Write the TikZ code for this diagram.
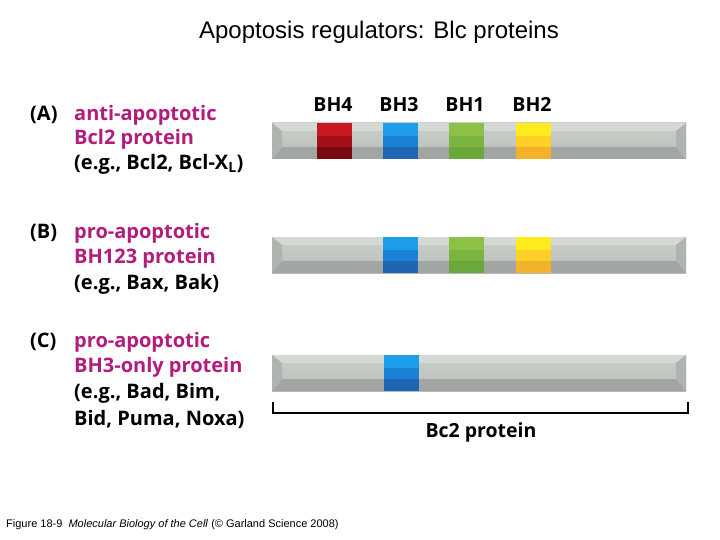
\documentclass[tikz,border=0pt]{standalone}
\usepackage{fontspec}
\setmainfont{Liberation Sans}
\newfontfamily\lab{Open Sans}[Numbers=Lining]
\definecolor{mag}{RGB}{178,28,124}
\definecolor{bartop}{RGB}{212,217,212}
\definecolor{facetop}{RGB}{202,207,202}
\definecolor{facebot}{RGB}{186,190,186}
\definecolor{barbot}{RGB}{162,166,163}
\definecolor{barside}{RGB}{176,180,176}
\definecolor{r1}{RGB}{200,24,32}\definecolor{r2}{RGB}{164,16,26}\definecolor{r3}{RGB}{118,10,16}
\definecolor{b1}{RGB}{30,158,232}\definecolor{b2}{RGB}{26,130,214}\definecolor{b3}{RGB}{32,100,180}
\definecolor{g1}{RGB}{140,192,70}\definecolor{g2}{RGB}{124,180,64}\definecolor{g3}{RGB}{106,168,60}
\definecolor{y1}{RGB}{255,236,30}\definecolor{y2}{RGB}{253,208,40}\definecolor{y3}{RGB}{244,178,42}
\newcommand\pbar[1]{\begin{scope}[shift={(0,#1)}]
 \shade[top color=facetop,bottom color=facebot] (272,0) rectangle (686,36);
 \fill[bartop] (272,0)--(686,0)--(676,8)--(282,8)--cycle;
 \fill[barbot] (272,36)--(686,36)--(676,24)--(282,24)--cycle;
 \fill[barside] (272,0)--(282,8)--(282,24)--(272,36)--cycle;
 \fill[barside] (686,0)--(676,8)--(676,24)--(686,36)--cycle;
\end{scope}}
\newcommand\dom[5]{\begin{scope}[shift={(#2,#1)}]
 \fill[#3] (0,0) rectangle (35,13);
 \fill[#4] (0,13) rectangle (35,24);
 \fill[#5] (0,24) rectangle (35,36);
\end{scope}}
\tikzset{
 lbl/.style={anchor=west,inner sep=0pt,font=\lab\bfseries\fontsize{20}{24}\selectfont},
 mg/.style={lbl,text=mag},
 bk/.style={lbl,text=black},
 bh/.style={anchor=base,inner sep=0pt,font=\lab\bfseries\fontsize{19.5}{24}\selectfont}
}
\begin{document}
\begin{tikzpicture}[x=1pt,y=-1pt]
\useasboundingbox (0,0) rectangle (720,540);
\fill[white] (0,0) rectangle (720,540);
\node (title) at (379,32) {\fontsize{24}{28}\selectfont Apoptosis regulators: Blc proteins};
% bars
\pbar{123}
\dom{123}{317}{r1}{r2}{r3}
\dom{123}{383}{b1}{b2}{b3}
\dom{123}{449}{g1}{g2}{g3}
\dom{123}{516}{y1}{y2}{y3}
\node[bh] (bh4) at (333,112) {BH4};
\node[bh] (bh3) at (399,112) {BH3};
\node[bh] (bh1) at (465,112) {BH1};
\node[bh] (bh2) at (532,112) {BH2};
\pbar{237}
\dom{237}{383}{b1}{b2}{b3}
\dom{237}{449}{g1}{g2}{g3}
\dom{237}{516}{y1}{y2}{y3}
\pbar{355}
\dom{355}{384}{b1}{b2}{b3}
% labels
\node[bk] (A) at (30,115) {(A)};
\node[mg] (A1) at (74,115) {anti-apoptotic};
\node[mg] (A2) at (74,139) {Bcl2 protein};
\node[bk] (A3) at (74,164) {(e.g., Bcl2, Bcl-X\textsubscript{L})};
\node[bk] (B) at (30,233) {(B)};
\node[mg] (B1) at (74,233) {pro-apoptotic};
\node[mg] (B2) at (74,258) {BH123 protein};
\node[bk] (B3) at (74,284) {(e.g., Bax, Bak)};
\node[bk] (C) at (30,342) {(C)};
\node[mg] (C1) at (74,342) {pro-apoptotic};
\node[mg] (C2) at (74,367) {BH3-only protein};
\node[bk] (C3) at (74,393) {(e.g., Bad, Bim,};
\node[bk] (C4) at (74,419) {Bid, Puma, Noxa)};
% bracket
\draw[line width=2.5pt] (273,402)--(273,413)--(688,413)--(688,402);
\node[bh] (bc2) at (481,437) {Bc2 protein};
\node[anchor=west,inner sep=0pt] (cap) at (6,525) {\fontsize{11}{13}\selectfont Figure 18-9\ \ \textit{Molecular Biology of the Cell} (© Garland Science 2008)};
\end{tikzpicture}
\end{document}
